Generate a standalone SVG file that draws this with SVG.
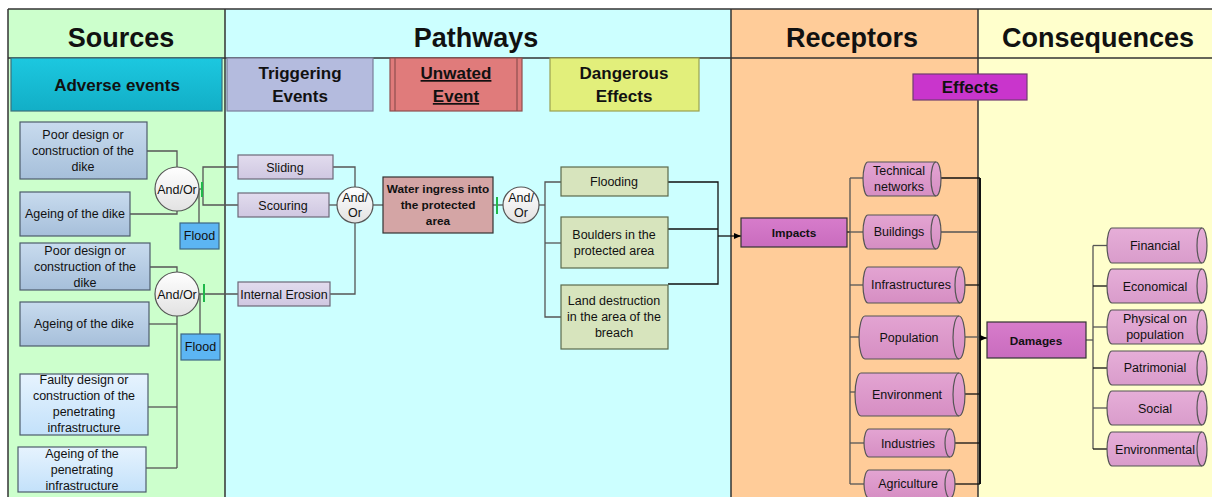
<svg xmlns="http://www.w3.org/2000/svg" width="1212" height="497" viewBox="0 0 1212 497">
<defs>
<linearGradient id="gAdv" x1="0" y1="0" x2="0" y2="1"><stop offset="0" stop-color="#1cc8e0"/><stop offset="1" stop-color="#12aec6"/></linearGradient>
<linearGradient id="gDike" x1="0" y1="0" x2="0" y2="1"><stop offset="0" stop-color="#c8dbee"/><stop offset="1" stop-color="#a6bfda"/></linearGradient>
<linearGradient id="gPen" x1="0" y1="0" x2="0" y2="1"><stop offset="0" stop-color="#e6f3fe"/><stop offset="1" stop-color="#c3e1fa"/></linearGradient>
<linearGradient id="gCirc" x1="0" y1="0" x2="0" y2="1"><stop offset="0" stop-color="#ffffff"/><stop offset="1" stop-color="#e2e2e2"/></linearGradient>
<linearGradient id="gTrig" x1="0" y1="0" x2="0" y2="1"><stop offset="0" stop-color="#e2dcee"/><stop offset="1" stop-color="#cfc7e1"/></linearGradient>
<linearGradient id="gImp" x1="0" y1="0" x2="0" y2="1"><stop offset="0" stop-color="#d77ccb"/><stop offset="1" stop-color="#c96cbe"/></linearGradient>
<linearGradient id="gCyl" x1="0" y1="0" x2="0" y2="1"><stop offset="0" stop-color="#e3a4d2"/><stop offset="1" stop-color="#d68ec3"/></linearGradient>
<linearGradient id="gCyl2" x1="0" y1="0" x2="0" y2="1"><stop offset="0" stop-color="#e6aed8"/><stop offset="1" stop-color="#d99ccb"/></linearGradient>
<marker id="arr" markerWidth="7" markerHeight="6" refX="7" refY="3" orient="auto" markerUnits="userSpaceOnUse"><path d="M0,0 L7,3 L0,6 z" fill="#000"/></marker>
</defs>
<style>
text{font-family:"Liberation Sans",Arial,sans-serif;fill:#111;text-anchor:middle}
.h1{font-size:27px;font-weight:bold}
.h2{font-size:17px;font-weight:bold}
.t{font-size:12.5px}
.tb{font-size:11.8px;font-weight:bold}
.col{stroke:#333;stroke-width:1.5}
.c line,.c path,.c polyline{stroke:#555;stroke-width:1.3;fill:none}
.c .k{stroke:#111}
.c .tick{stroke:#1fb84a;stroke-width:2}
.dike{fill:url(#gDike);stroke:#4d5c6b;stroke-width:1.2}
.pen{fill:url(#gPen);stroke:#4d5c6b;stroke-width:1.2}
.circ{fill:url(#gCirc);stroke:#555;stroke-width:1.2}
.flood{fill:#5cb5f3;stroke:#3c6683;stroke-width:1.2}
.trig{fill:url(#gTrig);stroke:#6d6878;stroke-width:1.2}
.dang{fill:#d7e4bd;stroke:#5b6a4c;stroke-width:1.2}
.cyl{fill:url(#gCyl);stroke:#555;stroke-width:1.2}
.cyl2{fill:url(#gCyl2);stroke:#555;stroke-width:1.2}
.inner{fill:none;stroke:#555;stroke-width:1.2}
</style>

<!-- column backgrounds -->
<g id="columns">
<rect x="8" y="9" width="217" height="490" fill="#ccffcc"/>
<rect x="225" y="9" width="506" height="490" fill="#ccffff"/>
<rect x="731" y="9" width="247" height="490" fill="#ffcc99"/>
<rect x="978" y="9" width="234" height="490" fill="#ffffcc"/>
<line class="col" x1="8" y1="9" x2="1212" y2="9" stroke="#555"/>
<line class="col" x1="8" y1="58" x2="1212" y2="58" stroke="#111"/>
<line class="col" x1="8" y1="9" x2="8" y2="497"/>
<line class="col" x1="225" y1="9" x2="225" y2="497"/>
<line class="col" x1="731" y1="9" x2="731" y2="497"/>
<line class="col" x1="978" y1="9" x2="978" y2="497"/>
<text class="h1" x="121" y="47">Sources</text>
<text class="h1" x="476" y="47">Pathways</text>
<text class="h1" x="852" y="47">Receptors</text>
<text class="h1" x="1098" y="47">Consequences</text>
</g>

<!-- sub headers -->
<g id="hdr-adverse"><rect x="11" y="58" width="211" height="53" fill="url(#gAdv)" stroke="#3c6f7b" stroke-width="1.2"/><text class="h2" x="117" y="91">Adverse events</text></g>
<g id="hdr-trigger"><rect x="227" y="58" width="146" height="53" fill="#b4bbde" stroke="#7a7d99" stroke-width="1.2"/><text class="h2" x="300" y="79">Triggering</text><text class="h2" x="300" y="102">Events</text></g>
<g id="hdr-unwanted"><rect x="390" y="58" width="132" height="53" fill="#e07b7b" stroke="#8e4f4f" stroke-width="1.2"/><line x1="395" y1="58" x2="395" y2="111" stroke="#8e4f4f" stroke-width="1.2"/><line x1="517" y1="58" x2="517" y2="111" stroke="#8e4f4f" stroke-width="1.2"/><text class="h2" x="456" y="79" text-decoration="underline">Unwated</text><text class="h2" x="456" y="102" text-decoration="underline">Event</text></g>
<g id="hdr-dangerous"><rect x="550" y="58" width="149" height="53" fill="#e2ef7b" stroke="#9aa050" stroke-width="1.2"/><text class="h2" x="624" y="79">Dangerous</text><text class="h2" x="624" y="102">Effects</text></g>
<g id="hdr-effects"><rect x="913" y="74" width="114" height="26" fill="#c935cc" stroke="#703d70" stroke-width="1.2"/><text class="h2" x="970" y="93">Effects</text></g>

<!-- connectors -->
<g id="connectors" class="c">
<polyline points="147,151 177,151 177,167"/>
<polyline points="130,214 177,214 177,211"/>
<line x1="199" y1="189" x2="203" y2="189"/>
<line x1="199" y1="223" x2="199" y2="189"/>
<polyline points="238,167 203,167 203,205 238,205"/>
<polyline points="150,267 177,267 177,272"/>
<line x1="177" y1="316" x2="177" y2="468"/>
<line x1="149" y1="324" x2="177" y2="324"/>
<line x1="148" y1="407" x2="177" y2="407"/>
<line x1="146" y1="468" x2="177" y2="468"/>
<line x1="199" y1="294" x2="238" y2="294"/>
<line x1="200" y1="294" x2="200" y2="334"/>
<polyline points="333,167 355,167 355,187"/>
<line x1="329" y1="205" x2="337" y2="205"/>
<polyline points="330,294 355,294 355,223"/>
<line x1="373" y1="205" x2="383" y2="205"/>
<line x1="493" y1="205" x2="503" y2="205"/>
<line x1="539" y1="205" x2="545" y2="205"/>
<polyline points="561,182 545,182 545,317 561,317"/>
<line x1="545" y1="243" x2="561" y2="243"/>
<polyline class="k" points="668,182 718,182 718,284 668,284"/>
<line class="k" x1="668" y1="229" x2="718" y2="229"/>
<line class="k" x1="718" y1="236" x2="741" y2="236" marker-end="url(#arr)"/>
<line class="k" x1="847" y1="232" x2="850" y2="232"/>
<line x1="850" y1="178" x2="850" y2="484"/>
<line x1="850" y1="178" x2="863" y2="178"/>
<line x1="850" y1="232" x2="863" y2="232"/>
<line x1="850" y1="285" x2="863" y2="285"/>
<line x1="850" y1="337" x2="859" y2="337"/>
<line x1="850" y1="392" x2="855" y2="392"/>
<line x1="850" y1="443" x2="864" y2="443"/>
<line x1="850" y1="484" x2="864" y2="484"/>
<line class="k" x1="941" y1="178" x2="980" y2="178"/>
<line x1="941" y1="232" x2="980" y2="232"/>
<line class="k" x1="960" y1="285" x2="980" y2="285"/>
<line x1="962" y1="337" x2="980" y2="337"/>
<line class="k" x1="962" y1="394" x2="980" y2="394"/>
<line class="k" x1="953" y1="443" x2="980" y2="443"/>
<line class="k" x1="953" y1="484" x2="980" y2="484"/>
<line class="k" x1="980" y1="178" x2="980" y2="484" style="stroke-width:2"/>
<line class="k" x1="980" y1="338" x2="987" y2="338" marker-end="url(#arr)"/>
<line x1="1086" y1="340" x2="1093" y2="340"/>
<line x1="1093" y1="245.5" x2="1093" y2="449"/>
<line x1="1093" y1="245.5" x2="1107" y2="245.5"/>
<line class="k" x1="1093" y1="286" x2="1107" y2="286"/>
<line x1="1093" y1="327" x2="1107" y2="327"/>
<line class="k" x1="1093" y1="368" x2="1107" y2="368"/>
<line x1="1093" y1="408" x2="1107" y2="408"/>
<line class="k" x1="1093" y1="449" x2="1107" y2="449"/>
<line class="tick" x1="202" y1="182" x2="202" y2="197"/>
<line class="tick" x1="204" y1="284" x2="204" y2="302"/>
<line class="tick" x1="497" y1="197" x2="497" y2="214"/>
</g>

<!-- sources -->
<g id="src-poor1"><rect class="dike" x="20" y="122" width="127" height="57"/><text class="t" x="83" y="139">Poor design or</text><text class="t" x="83" y="155">construction of the</text><text class="t" x="83" y="171">dike</text></g>
<g id="src-ageing1"><rect class="dike" x="20" y="192" width="110" height="44"/><text class="t" x="75" y="218">Ageing of the dike</text></g>
<g id="gate1"><circle class="circ" cx="177" cy="189" r="22"/><text class="t" x="177" y="194">And/Or</text></g>
<g id="flood1"><rect class="flood" x="180" y="223" width="39" height="26"/><text class="t" x="199.5" y="240">Flood</text></g>
<g id="src-poor2"><rect class="dike" x="20" y="243" width="130" height="47"/><text class="t" x="85" y="255">Poor design or</text><text class="t" x="85" y="271">construction of the</text><text class="t" x="85" y="287">dike</text></g>
<g id="gate2"><circle class="circ" cx="177" cy="294" r="22"/><text class="t" x="177" y="299">And/Or</text></g>
<g id="src-ageing2"><rect class="dike" x="20" y="302" width="129" height="44"/><text class="t" x="84" y="328">Ageing of the dike</text></g>
<g id="flood2"><rect class="flood" x="181" y="334" width="39" height="26"/><text class="t" x="200.5" y="351">Flood</text></g>
<g id="src-faulty"><rect class="pen" x="20" y="374" width="128" height="61"/><text class="t" x="84" y="384">Faulty design or</text><text class="t" x="84" y="400">construction of the</text><text class="t" x="84" y="416">penetrating</text><text class="t" x="84" y="432">infrastructure</text></g>
<g id="src-ageing-pen"><rect class="pen" x="18" y="447" width="128" height="45"/><text class="t" x="82" y="458">Ageing of the</text><text class="t" x="82" y="474">penetrating</text><text class="t" x="82" y="490">infrastructure</text></g>

<!-- pathways -->
<g id="trig-sliding"><rect class="trig" x="238" y="155" width="95" height="24"/><text class="t" x="285" y="172">Sliding</text></g>
<g id="trig-scouring"><rect class="trig" x="238" y="193" width="91" height="24"/><text class="t" x="283" y="210">Scouring</text></g>
<g id="trig-erosion"><rect class="trig" x="238" y="282" width="92" height="24"/><text class="t" x="284" y="299">Internal Erosion</text></g>
<g id="gate3"><circle class="circ" cx="355" cy="205" r="18"/><text class="t" x="355" y="202">And/</text><text class="t" x="355" y="217">Or</text></g>
<g id="water-ingress"><rect x="383" y="177" width="110" height="56" fill="#d4a5a5" stroke="#333" stroke-width="1.2"/><text class="tb" x="438" y="193">Water ingress into</text><text class="tb" x="438" y="209">the protected</text><text class="tb" x="438" y="225">area</text></g>
<g id="gate4"><circle class="circ" cx="521" cy="205" r="18"/><text class="t" x="521" y="202">And/</text><text class="t" x="521" y="217">Or</text></g>
<g id="eff-flooding"><rect class="dang" x="561" y="167" width="107" height="29"/><text class="t" x="614" y="186">Flooding</text></g>
<g id="eff-boulders"><rect class="dang" x="561" y="217" width="107" height="51"/><text class="t" x="614" y="239">Boulders in the</text><text class="t" x="614" y="255">protected area</text></g>
<g id="eff-land"><rect class="dang" x="561" y="285" width="107" height="64"/><text class="t" x="614" y="305">Land destruction</text><text class="t" x="614" y="321">in the area of the</text><text class="t" x="614" y="337">breach</text></g>

<!-- receptors -->
<g id="impacts"><rect x="741" y="218" width="106" height="29" fill="url(#gImp)" stroke="#333" stroke-width="1.2"/><text class="tb" x="794" y="237">Impacts</text></g>
<g id="rec-technical"><path class="cyl" d="M868 162 H936 A5 17 0 0 1 936 196 H868 A5 17 0 0 1 868 162 Z"/><path class="inner" d="M936 162 A5 17 0 0 0 936 196"/><text class="t" x="899" y="175">Technical</text><text class="t" x="899" y="191">networks</text></g>
<g id="rec-buildings"><path class="cyl" d="M868 215 H936 A5 17 0 0 1 936 249 H868 A5 17 0 0 1 868 215 Z"/><path class="inner" d="M936 215 A5 17 0 0 0 936 249"/><text class="t" x="899" y="236">Buildings</text></g>
<g id="rec-infra"><path class="cyl" d="M868 267 H960 A5 18 0 0 1 960 303 H868 A5 18 0 0 1 868 267 Z"/><path class="inner" d="M960 267 A5 18 0 0 0 960 303"/><text class="t" x="911" y="289">Infrastructures</text></g>
<g id="rec-population"><path class="cyl" d="M865 316 H959 A6 21.5 0 0 1 959 359 H865 A6 21.5 0 0 1 865 316 Z"/><path class="inner" d="M959 316 A6 21.5 0 0 0 959 359"/><text class="t" x="909" y="342">Population</text></g>
<g id="rec-environment"><path class="cyl" d="M861 373 H959 A6 21.5 0 0 1 959 416 H861 A6 21.5 0 0 1 861 373 Z"/><path class="inner" d="M959 373 A6 21.5 0 0 0 959 416"/><text class="t" x="907" y="399">Environment</text></g>
<g id="rec-industries"><path class="cyl" d="M869 429 H950 A5 14 0 0 1 950 457 H869 A5 14 0 0 1 869 429 Z"/><path class="inner" d="M950 429 A5 14 0 0 0 950 457"/><text class="t" x="908" y="448">Industries</text></g>
<g id="rec-agriculture"><path class="cyl" d="M869 470 H950 A5 14 0 0 1 950 498 H869 A5 14 0 0 1 869 470 Z"/><path class="inner" d="M950 470 A5 14 0 0 0 950 498"/><text class="t" x="908" y="488">Agriculture</text></g>

<!-- consequences -->
<g id="damages"><rect x="987" y="322" width="99" height="36" fill="url(#gImp)" stroke="#333" stroke-width="1.2"/><text class="tb" x="1036" y="345">Damages</text></g>
<g id="con-financial"><path class="cyl2" d="M1112 228 H1202 A5 17.5 0 0 1 1202 263 H1112 A5 17.5 0 0 1 1112 228 Z"/><path class="inner" d="M1202 228 A5 17.5 0 0 0 1202 263"/><text class="t" x="1155" y="250">Financial</text></g>
<g id="con-economical"><path class="cyl2" d="M1112 269 H1202 A5 17 0 0 1 1202 303 H1112 A5 17 0 0 1 1112 269 Z"/><path class="inner" d="M1202 269 A5 17 0 0 0 1202 303"/><text class="t" x="1155" y="291">Economical</text></g>
<g id="con-physical"><path class="cyl2" d="M1112 310 H1202 A5 17 0 0 1 1202 344 H1112 A5 17 0 0 1 1112 310 Z"/><path class="inner" d="M1202 310 A5 17 0 0 0 1202 344"/><text class="t" x="1155" y="323">Physical on</text><text class="t" x="1155" y="339">population</text></g>
<g id="con-patrimonial"><path class="cyl2" d="M1112 351 H1202 A5 17 0 0 1 1202 385 H1112 A5 17 0 0 1 1112 351 Z"/><path class="inner" d="M1202 351 A5 17 0 0 0 1202 385"/><text class="t" x="1155" y="372">Patrimonial</text></g>
<g id="con-social"><path class="cyl2" d="M1112 391 H1202 A5 17 0 0 1 1202 425 H1112 A5 17 0 0 1 1112 391 Z"/><path class="inner" d="M1202 391 A5 17 0 0 0 1202 425"/><text class="t" x="1155" y="413">Social</text></g>
<g id="con-environmental"><path class="cyl2" d="M1112 432 H1202 A5 17 0 0 1 1202 466 H1112 A5 17 0 0 1 1112 432 Z"/><path class="inner" d="M1202 432 A5 17 0 0 0 1202 466"/><text class="t" x="1155" y="454">Environmental</text></g>
</svg>
